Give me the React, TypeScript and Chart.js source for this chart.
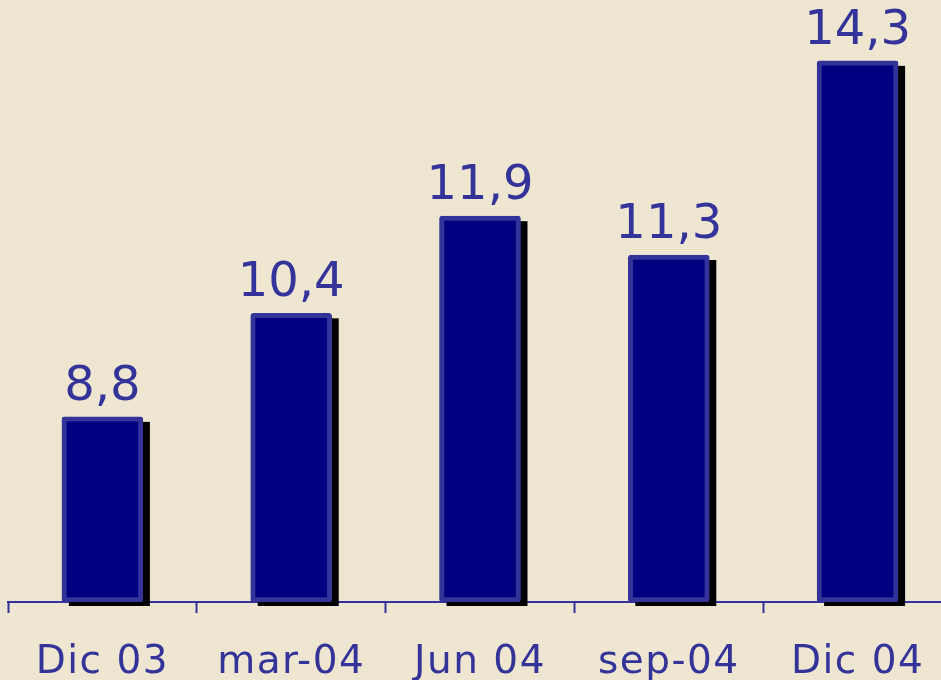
import React, { useEffect, useRef } from "react";
import { Chart, registerables } from "chart.js";

Chart.register(...registerables);

const categories = ["Dic 03", "mar-04", "Jun 04", "sep-04", "Dic 04"];
const values = [8.8, 10.4, 11.9, 11.3, 14.3];
const valueLabels = ["8,8", "10,4", "11,9", "11,3", "14,3"];

const Y_MIN = 5.94;
const Y_MAX = 15.24;

const BG = "#EEE6D1";
const BAR = "#000080";
const EDGE = "#333399";

const spacingPlugin = {
  id: "tickSpacing",
  beforeDraw(chart: any) {
    (chart.ctx as any).letterSpacing = "1.5px";
  },
  beforeDatasetsDraw(chart: any) {
    (chart.ctx as any).letterSpacing = "0px";
  },
};

const shadowPlugin = {
  id: "barShadow",
  beforeDatasetsDraw(chart: any) {
    const ctx = chart.ctx;
    const meta = chart.getDatasetMeta(0);
    const bottom = chart.chartArea.bottom;
    ctx.save();
    ctx.fillStyle = "#000000";
    meta.data.forEach((bar: any) => {
      const p = bar.getProps(["x", "y", "width"], true);
      const left = p.x - p.width / 2;
      ctx.fillRect(left + 7, p.y + 5, p.width, bottom + 4 - (p.y + 5));
    });
    ctx.restore();
  },
};

const labelPlugin = {
  id: "valueLabels",
  afterDatasetsDraw(chart: any) {
    const ctx = chart.ctx;
    const meta = chart.getDatasetMeta(0);
    ctx.save();
    ctx.fillStyle = EDGE;
    ctx.font = "48px 'DejaVu Sans'";
    ctx.textAlign = "center";
    ctx.textBaseline = "alphabetic";
    meta.data.forEach((bar: any, i: number) => {
      const p = bar.getProps(["x", "y"], true);
      ctx.fillText(valueLabels[i], p.x, p.y - 17);
    });
    ctx.restore();
  },
};

export default function App() {
  const ref = useRef<HTMLCanvasElement | null>(null);
  useEffect(() => {
    if (!ref.current) return;
    const chart = new Chart(ref.current, {
      type: "bar",
      data: {
        labels: categories,
        datasets: [
          {
            data: values,
            base: Y_MIN,
            backgroundColor: BAR,
            borderColor: EDGE,
            borderWidth: 5,
            borderRadius: 3,
            borderSkipped: false,
            barThickness: 81,
          },
        ],
      },
      options: {
        animation: false,
        responsive: false,
        maintainAspectRatio: false,
        layout: { padding: { left: 8, right: 0, top: 0, bottom: 0 } },
        plugins: { legend: { display: false }, tooltip: { enabled: false } },
        scales: {
          y: { display: false, min: Y_MIN, max: Y_MAX },
          x: {
            afterFit: (scale: any) => {
              scale.height = 78;
            },
            border: { display: true, color: EDGE, width: 2 },
            grid: {
              display: true,
              drawOnChartArea: false,
              drawTicks: true,
              tickLength: 11,
              tickWidth: 2,
              tickColor: EDGE,
              color: EDGE,
              offset: true,
            },
            ticks: {
              color: EDGE,
              padding: 26,
              font: { family: "'DejaVu Sans'", size: 39 },
              maxRotation: 0,
              autoSkip: false,
            },
          },
        },
      },
      plugins: [spacingPlugin, shadowPlugin, labelPlugin],
    });
    return () => chart.destroy();
  }, []);
  return (
    <div
      style={{
        position: "fixed",
        left: 0,
        top: 0,
        width: 941,
        height: 680,
        overflow: "hidden",
        background: BG,
      }}
    >
      <canvas ref={ref} width={952} height={680} style={{ display: "block", width: 952, height: 680 }} />
    </div>
  );
}
